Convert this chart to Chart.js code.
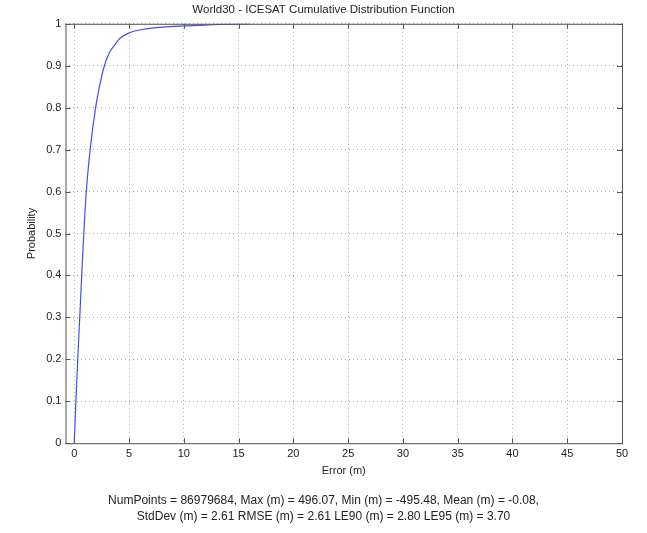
<!DOCTYPE html>
<html>
<head>
<meta charset="utf-8">
<script src="https://cdn.jsdelivr.net/npm/chart.js@4"></script>
<style>
  body { margin: 0; background: #fff; }
  #wrap { width: 647px; height: 533px; }
</style>
</head>
<body>
<div id="wrap"><canvas id="cdfChart" width="647" height="533"></canvas></div>
<script>
// CDF of absolute error
const errorValues = [0, 0.15, 0.32, 0.5, 0.68, 0.87, 1.1, 1.45, 1.95, 2.3, 2.75, 3.15, 3.7, 4.2, 5, 6.3, 8, 10, 12, 14, 16];
const probValues  = [0, 0.1, 0.2, 0.3, 0.4, 0.5, 0.6, 0.7, 0.8, 0.85, 0.9, 0.928, 0.95, 0.966, 0.978, 0.987, 0.992, 0.995, 0.997, 0.999, 1.0];

const titleText = 'World30 - ICESAT Cumulative Distribution Function';
const footerLines = [
    'NumPoints = 86979684, Max (m) = 496.07, Min (m) = -495.48, Mean (m) = -0.08,',
    'StdDev (m) = 2.61 RMSE (m) = 2.61 LE90 (m) = 2.80 LE95 (m) = 3.70'
];

const points = errorValues.map((x, i) => ({ x: x, y: probValues[i] }));

const font = { family: '"Liberation Sans", Arial, sans-serif', size: 11 };

// draws the box round the plot area and the small inner ticks
const boxPlugin = {
    id: 'box',
    afterDraw(chart) {
        const ctx = chart.ctx;
        const a = chart.chartArea;
        const xs = chart.scales.x;
        const ys = chart.scales.y;
        ctx.save();
        ctx.strokeStyle = '#555';
        ctx.lineWidth = 1;
        ctx.strokeRect(a.left + 0.5, a.top + 0.5, a.right - a.left, a.bottom - a.top);
        ctx.beginPath();
        xs.ticks.forEach(t => {
            const px = Math.round(xs.getPixelForValue(t.value)) + 0.5;
            ctx.moveTo(px, a.bottom); ctx.lineTo(px, a.bottom - 5);
            ctx.moveTo(px, a.top); ctx.lineTo(px, a.top + 5);
        });
        ys.ticks.forEach(t => {
            const py = Math.round(ys.getPixelForValue(t.value)) + 0.5;
            ctx.moveTo(a.left, py); ctx.lineTo(a.left + 5, py);
            ctx.moveTo(a.right, py); ctx.lineTo(a.right - 5, py);
        });
        ctx.stroke();
        ctx.restore();
    }
};

new Chart(document.getElementById('cdfChart'), {
    type: 'scatter',
    data: {
        datasets: [{
            data: points,
            showLine: true,
            borderColor: '#4a4aee',
            borderWidth: 1.2,
            pointRadius: 0,
            cubicInterpolationMode: 'monotone'
        }]
    },
    options: {
        responsive: false,
        animation: false,
        layout: { padding: { left: 25, right: 25, top: 0, bottom: 0 } },
        plugins: {
            legend: { display: false },
            tooltip: { enabled: false },
            title: {
                display: true,
                text: titleText,
                color: '#222',
                font: { family: font.family, size: 11.5, weight: 'normal' },
                padding: { top: 3, bottom: 7 }
            },
            subtitle: {
                display: true,
                position: 'bottom',
                text: footerLines,
                color: '#222',
                font: { family: font.family, size: 12, lineHeight: 1.35 },
                padding: { top: 15, bottom: 8 }
            }
        },
        scales: {
            x: {
                type: 'linear',
                min: -0.8,
                max: 50,
                ticks: {
                    stepSize: 5,
                    includeBounds: false,
                    color: '#222',
                    font: font,
                    padding: 4,
                    maxRotation: 0
                },
                grid: {
                    color: '#aaa',
                    tickLength: 0,
                    drawTicks: false
                },
                border: { display: false, dash: [1, 3] },
                title: {
                    display: true,
                    text: 'Error (m)',
                    color: '#222',
                    font: font,
                    padding: { top: 0, bottom: 0 }
                }
            },
            y: {
                type: 'linear',
                min: 0,
                max: 1,
                ticks: {
                    stepSize: 0.1,
                    color: '#222',
                    font: font,
                    padding: 4,
                    callback: v => String(Number(v.toFixed(1)))
                },
                grid: {
                    color: '#aaa',
                    drawTicks: false
                },
                border: { display: false, dash: [1, 3] },
                title: {
                    display: true,
                    text: 'Probability',
                    color: '#222',
                    font: font,
                    padding: { top: 0, bottom: 4 }
                }
            }
        }
    },
    plugins: [boxPlugin]
});
</script>
</body>
</html>
